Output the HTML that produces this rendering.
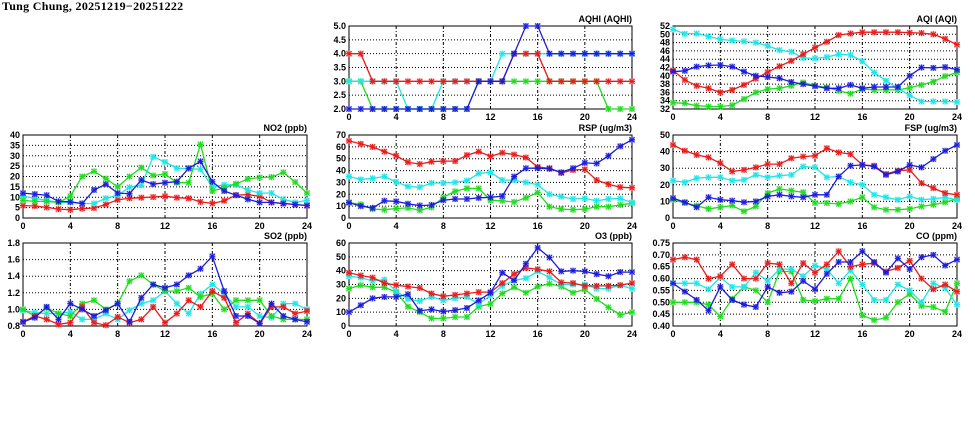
<!DOCTYPE html>
<html><head><meta charset="utf-8">
<style>
html,body{margin:0;padding:0;background:#fff;width:975px;height:447px;overflow:hidden}
svg{display:block}
text{font-family:"Liberation Sans",sans-serif;font-weight:bold;font-size:9px;fill:#000}
.ttl{font-family:"Liberation Serif",serif;font-size:12px;letter-spacing:0.3px}
</style></head>
<body>
<svg id="chart" width="975" height="447">
<text class="ttl" x="2" y="10">Tung Chung, 20251219−20251222</text>
</svg>
<script>
const hours = [0,1,2,3,4,5,6,7,8,9,10,11,12,13,14,15,16,17,18,19,20,21,22,23,24];
const xTicks = [0,4,8,12,16,20,24];

const aqhiRed   = [4,4,3,3,3,3,3,3,3,3,3,3,3,3,4,4,4,3,3,3,3,3,3,3,3];
const aqhiBlue  = [2,2,2,2,2,2,2,2,2,2,2,3,3,3,4,5,5,4,4,4,4,4,4,4,4];
const aqhiCyan  = [3,3,3,3,3,2,2,2,3,3,3,3,3,4,4,4,4,4,4,4,4,4,4,4,4];
const aqhiGreen = [3,3,2,2,2,2,2,2,2,2,2,3,3,3,3,3,3,3,3,3,3,3,2,2,2];
const aqhiTicks = [2.0,2.5,3.0,3.5,4.0,4.5,5.0];

const aqiCyan  = [51.2,50.1,50.2,49.5,48.8,48.5,48.3,48,47.2,46.2,45.8,44.3,44.2,44.5,45.2,45,43.5,40.8,38.8,37,35.3,33.8,33.8,33.8,33.7];
const aqiRed   = [41.3,39,37.6,37,36,36.6,37.8,39.3,40.9,42.3,43.6,45.2,46.8,48.2,49.8,50.2,50.5,50.5,50.5,50.5,50.4,50.3,50,48.9,47.5];
const aqiBlue  = [41,41.2,42.2,42.5,42.6,42.2,41,40,39.7,39.4,38.5,38,37.5,37,37,37.8,37,37.3,37.3,37.3,40,42,41.9,42.1,41.5];
const aqiGreen = [33.5,33.4,32.8,32.6,32.6,32.9,34.4,36,36.8,37,37.6,38.4,37.6,37.2,36.4,35.7,36.8,36.6,36.6,36.6,37.1,37.8,38.6,39.9,40.8];
const aqiTicks = [32,34,36,38,40,42,44,46,48,50,52];

const no2Blue  = [12,11.5,11,8,7.8,7,13.5,16.3,12,11.7,18.3,16.3,17,17.5,24,27.3,17.5,13,11,9,7.5,7.5,7,6.5,6];
const no2Cyan  = [10.5,9.5,8.5,7.5,7.5,7,7,9.5,11,14.8,15.8,29.5,27,24,23.8,23.5,15,16,16,13.5,12,12,9,7.5,8.5];
const no2Green = [8.5,8,8,7.5,10.5,20,22.5,19,15,20,24.3,20.5,21.2,17,17,35.5,13,14.5,16.5,18.8,19.5,19.7,22,17.3,12];
const no2Red   = [6,5.8,5.1,4.3,4,4.5,4.8,6.5,8.8,9.5,9.8,10.1,10.5,9.8,9.5,7.8,7,8.3,11,11.3,10.5,7.5,7,6.5,6];
const no2Ticks = [0,5,10,15,20,25,30,35,40];

const rspRed   = [65,62.5,60,56,52.5,47,45.5,47.5,48,48,53,56,52,55,53.5,51,43,42,38,40.5,41,32,28.5,26,25.5];
const rspCyan  = [35,32.5,33.5,35,30.5,26.5,26,29.5,29.5,30,31.5,37.5,38.5,32,32,30,28,20,18,16,16.5,14.5,16,16.5,13];
const rspBlue  = [13,10,8.5,14.5,14,12,10.5,11,15,16,16,17,17.5,18.5,35,42,42,41.5,38.5,42,46.5,46,52.5,60.5,66];
const rspGreen = [13,11.5,7.5,7,8,8.5,6.5,9,17.5,22.5,25,25,15,14.5,13.5,17,21.5,9.5,7.5,7,7.5,9.5,9.5,11,12.5];
const rspTicks = [0,10,20,30,40,50,60,70];

const fspRed   = [44,40.5,38,36.5,33,28,29,30.5,32.5,32.5,36,37,37.5,42,39.5,38.5,32,31.5,26.5,28.5,29,21,18,15,14];
const fspCyan  = [22.5,21.5,24,24.5,24.5,22.5,23,26,24.5,25.5,26,31,30.5,24.5,25,21.5,20,14,12.5,11,13,11,11.5,12.5,11];
const fspBlue  = [12,9.5,6.5,12.5,11,10.5,9.5,10,13,14,13,12.5,14,14,25,31.5,32,31,26,28,32,30.5,35.5,40.5,44];
const fspGreen = [11,9,7.5,5.5,6.5,7.5,4,7,15,17.5,16.5,15.5,9,9,8.5,10,12.5,6.5,5,5,5.5,7,8,9.5,11.5];
const fspTicks = [0,10,20,30,40,50];

const so2Blue  = [0.85,0.9,1.03,0.88,1.07,1.0,0.92,0.99,1.07,0.85,1.14,1.3,1.26,1.3,1.41,1.49,1.64,1.22,0.92,0.92,0.83,1.07,0.92,0.88,0.85];
const so2Green = [1.0,0.92,1.02,0.95,0.92,1.07,1.11,1.0,1.07,1.34,1.41,1.3,1.22,1.22,1.26,1.15,1.19,1.0,1.11,1.11,1.11,0.92,0.88,0.88,0.88];
const so2Cyan  = [0.99,0.96,0.95,0.95,0.97,0.88,0.88,0.95,0.88,0.99,1.07,1.11,1.22,1.07,0.95,1.19,1.3,1.19,1.03,1.03,0.92,0.9,1.07,1.07,1.0];
const so2Red   = [0.85,0.92,0.88,0.82,0.84,1.03,0.84,0.81,0.91,0.84,0.88,1.03,0.84,0.95,1.11,1.03,1.22,1.14,0.84,0.95,0.83,1.03,1.03,0.95,0.98];
const so2Ticks = [0.8,1.0,1.2,1.4,1.6,1.8];

const o3Blue  = [10,15,20,21,21,23,11,12,10.5,11.5,13,18.5,24,38.5,33,45,56.5,49.5,39.5,40,39.5,37.5,36,39,39];
const o3Red   = [38.5,36.5,35,31,29.5,28.5,27.5,23.5,21.5,22.5,23.5,24.5,24.5,31,37.5,42,41,39.5,31.5,31,29,29,29,29.5,31];
const o3Cyan  = [36,35,32.5,33.5,25,19.5,18,21,18.5,20,21,16,22,29,33,34.5,39.5,35,30,30,30,27,27,29.5,27];
const o3Green = [27,29.5,28,28,24.5,14,10,5.5,5.5,6.5,6.5,14,16,23.5,28,24,28.5,30.5,28.5,24,26.5,19.5,13.5,8,10];
const o3Ticks = [0,10,20,30,40,50,60];

const coRed   = [0.68,0.69,0.68,0.60,0.61,0.66,0.60,0.60,0.665,0.66,0.58,0.665,0.625,0.66,0.715,0.65,0.66,0.665,0.63,0.645,0.675,0.60,0.555,0.575,0.545];
const coBlue  = [0.58,0.545,0.51,0.465,0.565,0.51,0.49,0.48,0.565,0.54,0.545,0.59,0.555,0.62,0.67,0.67,0.715,0.67,0.625,0.685,0.64,0.69,0.70,0.655,0.68];
const coCyan  = [0.58,0.58,0.58,0.555,0.605,0.565,0.565,0.625,0.59,0.64,0.64,0.61,0.655,0.64,0.58,0.635,0.575,0.51,0.51,0.575,0.55,0.50,0.58,0.56,0.49];
const coGreen = [0.50,0.50,0.50,0.49,0.44,0.515,0.565,0.55,0.50,0.63,0.63,0.51,0.505,0.515,0.515,0.60,0.445,0.425,0.435,0.50,0.535,0.485,0.48,0.46,0.58];
const coTicks = [0.40,0.45,0.50,0.55,0.60,0.65,0.70,0.75];

const COL = {green:'#1fdc1f', cyan:'#1ee6e6', red:'#e81c1c', blue:'#1c1cdc'};
const NS = 'http://www.w3.org/2000/svg';
const svg = document.getElementById('chart');
function mk(tag, attrs, parent){
  const e = document.createElementNS(NS, tag);
  for (const k in attrs) e.setAttribute(k, attrs[k]);
  (parent||svg).appendChild(e);
  return e;
}

function panel(name, title, x0, x1, y0, y1, ticks, dec, series){
  const g = mk('g', {});
  
  
  const ymin = ticks[0], ymax = ticks[ticks.length-1];
  const sx = h => x0 + (h - hours[0]) / (hours[hours.length-1] - hours[0]) * (x1 - x0);
  const sy = v => y1 - (v - ymin) / (ymax - ymin) * (y1 - y0);
  ticks.forEach((t, i) => {
    const y = sy(t);
    if (i > 0 && i < ticks.length-1) {
      const l = mk('line', {x1:x0, x2:x1, y1:y, y2:y, stroke:'#000', 'stroke-width':1, 'stroke-dasharray':'1,2'}, g);
      
      
    }
    const tx = mk('text', {x:x0-3, y:y+3, 'text-anchor':'end'}, g);
    
    
    tx.textContent = t.toFixed(dec);
  });
  xTicks.forEach((t, i) => {
    const x = sx(t);
    if (i > 0 && i < xTicks.length-1) {
      const l = mk('line', {x1:x, x2:x, y1:y0, y2:y1, stroke:'#000', 'stroke-width':1, 'stroke-dasharray':'3,2,1,2'}, g);
      
      
    }
    const tx = mk('text', {x:x, y:y1+11, 'text-anchor':'middle'}, g);
    
    
    tx.textContent = t;
  });
  const fr = mk('rect', {x:x0, y:y0, width:x1-x0, height:y1-y0, fill:'none', stroke:'#000', 'stroke-width':1}, g);
  
  
  const tt = mk('text', {x:x1, y:y0-4, 'text-anchor':'end'}, g);
  
  
  tt.textContent = title;
  series.forEach(([cname, vals]) => {
    const c = COL[cname];
    const pts = vals.map((v, i) => sx(hours[i]).toFixed(1) + ',' + sy(v).toFixed(1)).join(' ');
    const pl = mk('polyline', {points:pts, fill:'none', stroke:c, 'stroke-width':1.3}, g);
    
    
    vals.forEach((v, i) => {
      const x = sx(hours[i]), y = sy(v);
      const m = mk('g', {}, g);
      
      
      mk('rect', {x:x-3, y:y-3, width:6, height:6, fill:c, opacity:0.3}, m);
      mk('path', {d:`M${x-2.5},${y-2.5}L${x+2.5},${y+2.5}M${x-2.5},${y+2.5}L${x+2.5},${y-2.5}M${x-3},${y}L${x+3},${y}M${x},${y-3}L${x},${y+3}`, stroke:c, 'stroke-width':1}, m);
    });
  });
}

panel('aqhi','AQHI (AQHI)',349,632,26,109,aqhiTicks,1,[['green',aqhiGreen],['cyan',aqhiCyan],['red',aqhiRed],['blue',aqhiBlue]]);
panel('aqi','AQI (AQI)',673,957,26,109,aqiTicks,0,[['green',aqiGreen],['cyan',aqiCyan],['red',aqiRed],['blue',aqiBlue]]);
panel('no2','NO2 (ppb)',23,307,135,218,no2Ticks,0,[['red',no2Red],['cyan',no2Cyan],['green',no2Green],['blue',no2Blue]]);
panel('rsp','RSP (ug/m3)',349,632,135,218,rspTicks,0,[['green',rspGreen],['cyan',rspCyan],['red',rspRed],['blue',rspBlue]]);
panel('fsp','FSP (ug/m3)',673,957,135,218,fspTicks,0,[['green',fspGreen],['cyan',fspCyan],['red',fspRed],['blue',fspBlue]]);
panel('so2','SO2 (ppb)',23,307,243,326,so2Ticks,1,[['cyan',so2Cyan],['green',so2Green],['red',so2Red],['blue',so2Blue]]);
panel('o3','O3 (ppb)',349,632,243,326,o3Ticks,0,[['green',o3Green],['cyan',o3Cyan],['red',o3Red],['blue',o3Blue]]);
panel('co','CO (ppm)',673,957,243,326,coTicks,2,[['green',coGreen],['cyan',coCyan],['red',coRed],['blue',coBlue]]);
</script>
</body></html>
